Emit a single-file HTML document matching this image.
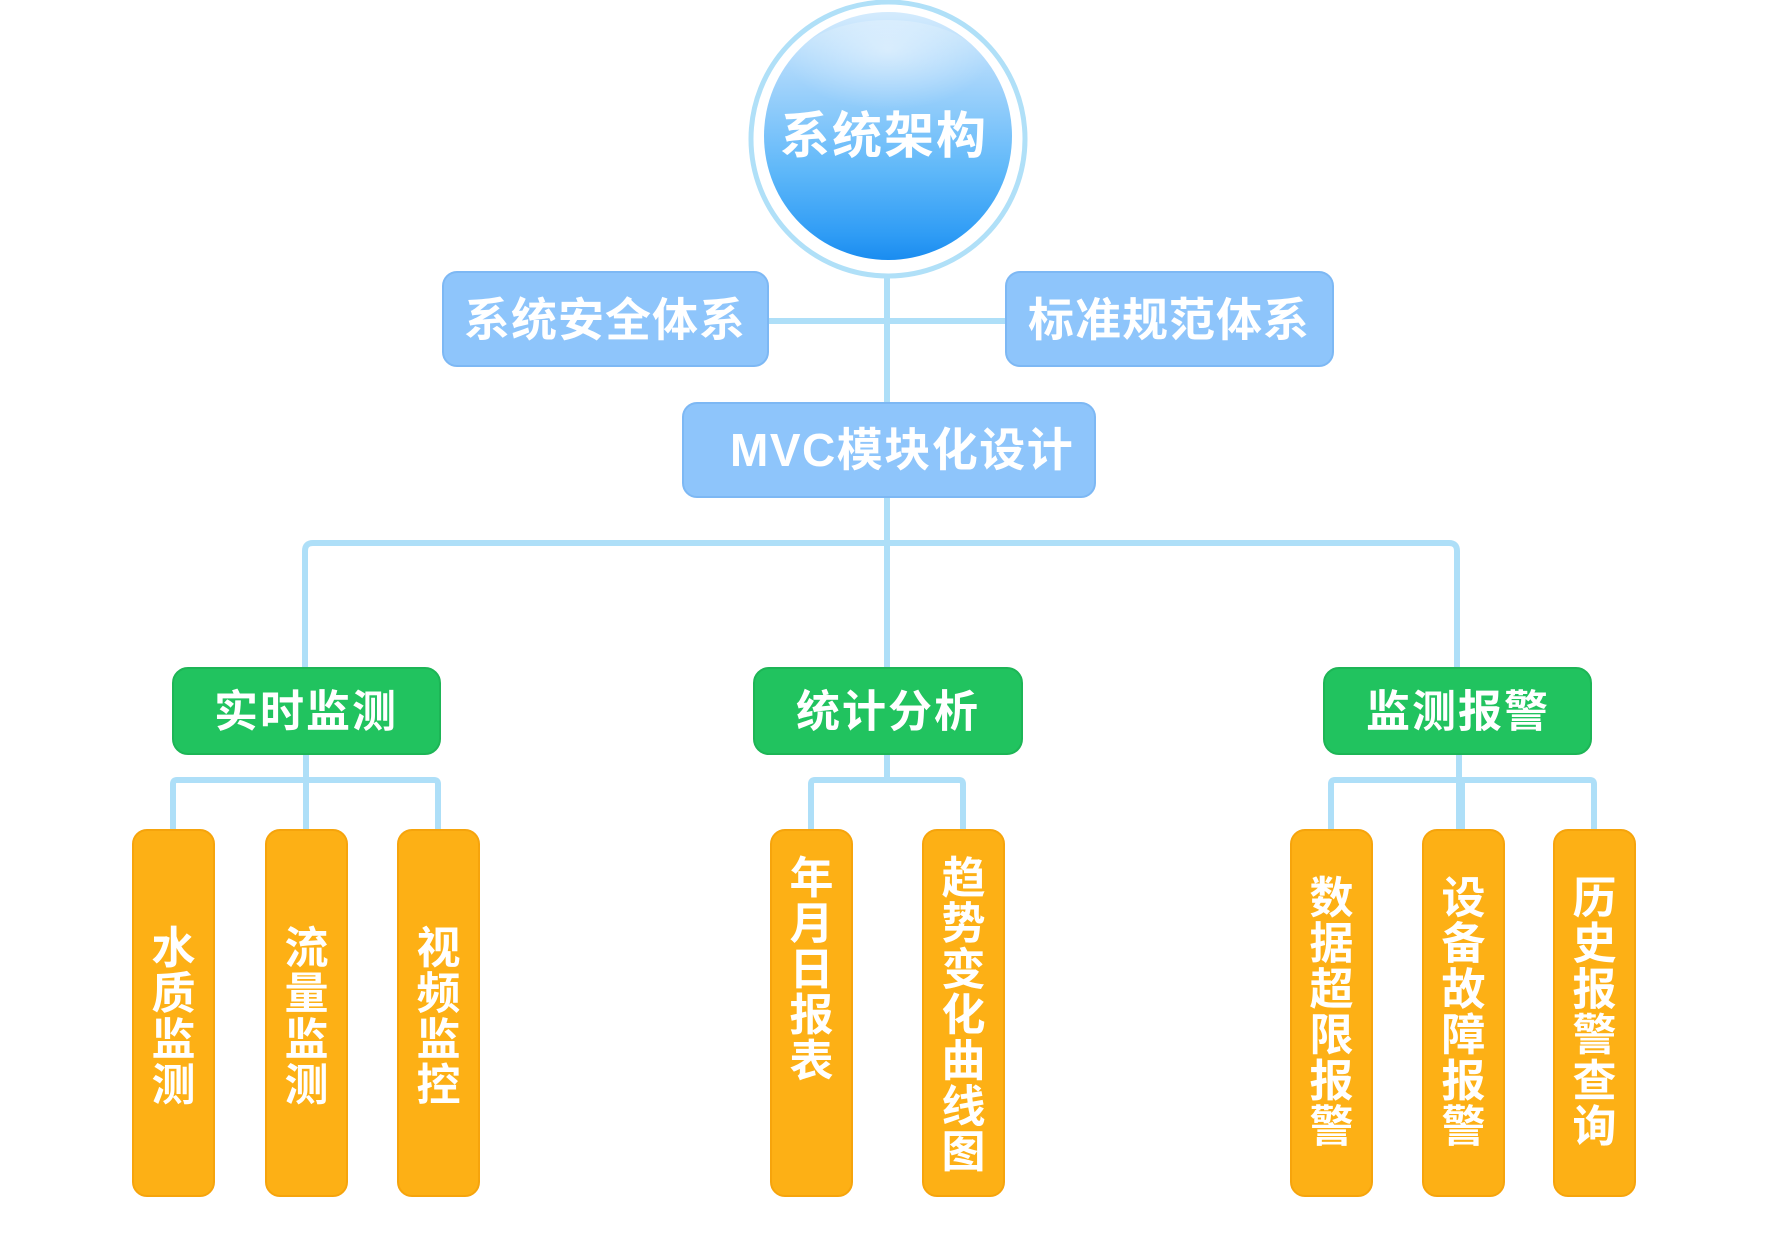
<!DOCTYPE html>
<html>
<head>
<meta charset="utf-8">
<style>
  html, body { margin:0; padding:0; background:#ffffff; }
  body { width:1772px; height:1253px; overflow:hidden; }
  svg { display:block; }
  text { font-family: "Liberation Sans", "Noto Sans CJK SC", "WenQuanYi Zen Hei", sans-serif; font-weight:700; fill:#ffffff; }
</style>
</head>
<body>
<svg width="1772" height="1253" viewBox="0 0 1772 1253" xmlns="http://www.w3.org/2000/svg">
  <defs>
    <linearGradient id="disc" x1="0" y1="0" x2="0" y2="1">
      <stop offset="0" stop-color="#d4ebfd"/>
      <stop offset="0.3" stop-color="#9fd2fb"/>
      <stop offset="0.65" stop-color="#5db7f9"/>
      <stop offset="0.9" stop-color="#2f9cf5"/>
      <stop offset="1" stop-color="#1a8cf0"/>
    </linearGradient>
    <radialGradient id="hl" cx="0.5" cy="0.25" r="0.5">
      <stop offset="0" stop-color="#ffffff" stop-opacity="0.45"/>
      <stop offset="1" stop-color="#ffffff" stop-opacity="0"/>
    </radialGradient>
  </defs>

  <!-- connectors -->
  <g stroke="#aedff8" stroke-width="6" fill="none" stroke-linecap="butt">
    <line x1="887" y1="272" x2="887" y2="668"/>
    <line x1="768" y1="321" x2="1005" y2="321"/>
    <path d="M305 668 V551 Q305 543 313 543 H1449 Q1457 543 1457 551 V668"/>
    <!-- left group -->
    <line x1="306" y1="754" x2="306" y2="830"/>
    <path d="M173 830 V784 Q173 780 177 780 H434 Q438 780 438 784 V830"/>
    <!-- middle group -->
    <line x1="887" y1="754" x2="887" y2="780"/>
    <path d="M811 830 V784 Q811 780 815 780 H959 Q963 780 963 784 V830"/>
    <!-- right group -->
    <line x1="1459" y1="754" x2="1459" y2="830"/>
    <line x1="1462" y1="780" x2="1462" y2="830"/>
    <path d="M1331 830 V784 Q1331 780 1335 780 H1590 Q1594 780 1594 784 V830"/>
  </g>

  <!-- central circle -->
  <circle cx="888" cy="139" r="137" fill="#ffffff" stroke="#b0e0f8" stroke-width="5"/>
  <circle cx="888" cy="136" r="124" fill="url(#disc)"/>
  <ellipse cx="888" cy="80" rx="105" ry="60" fill="url(#hl)"/>
  <text x="884" y="136" font-size="50" text-anchor="middle" dominant-baseline="central" letter-spacing="2">系统架构</text>

  <!-- blue boxes -->
  <rect x="443" y="272" width="325" height="94" rx="14" fill="#8ec5fb" stroke="#7db8f4" stroke-width="2"/>
  <text x="605" y="320" font-size="46" text-anchor="middle" dominant-baseline="central" letter-spacing="1">系统安全体系</text>
  <rect x="1006" y="272" width="327" height="94" rx="14" fill="#8ec5fb" stroke="#7db8f4" stroke-width="2"/>
  <text x="1169" y="320" font-size="46" text-anchor="middle" dominant-baseline="central" letter-spacing="1">标准规范体系</text>
  <rect x="683" y="403" width="412" height="94" rx="14" fill="#8ec5fb" stroke="#7db8f4" stroke-width="2"/>
  <text x="730" y="450" font-size="46" dominant-baseline="central" letter-spacing="1.5">MVC模块化设计</text>

  <!-- green boxes -->
  <rect x="173" y="668" width="267" height="86" rx="15" fill="#21c35f" stroke="#1db556" stroke-width="2"/>
  <text x="306" y="712" font-size="44" text-anchor="middle" dominant-baseline="central" letter-spacing="2">实时监测</text>
  <rect x="754" y="668" width="268" height="86" rx="15" fill="#21c35f" stroke="#1db556" stroke-width="2"/>
  <text x="888" y="712" font-size="44" text-anchor="middle" dominant-baseline="central" letter-spacing="2">统计分析</text>
  <rect x="1324" y="668" width="267" height="86" rx="15" fill="#21c35f" stroke="#1db556" stroke-width="2"/>
  <text x="1458" y="712" font-size="44" text-anchor="middle" dominant-baseline="central" letter-spacing="2">监测报警</text>

  <!-- orange boxes -->
  <g fill="#fdb015" stroke="#f6a40c" stroke-width="2">
    <rect x="133" y="830" width="81" height="366" rx="14"/>
    <rect x="266" y="830" width="81" height="366" rx="14"/>
    <rect x="398" y="830" width="81" height="366" rx="14"/>
    <rect x="771" y="830" width="81" height="366" rx="14"/>
    <rect x="923" y="830" width="81" height="366" rx="14"/>
    <rect x="1291" y="830" width="81" height="366" rx="14"/>
    <rect x="1423" y="830" width="81" height="366" rx="14"/>
    <rect x="1554" y="830" width="81" height="366" rx="14"/>
  </g>

  <g font-size="44" text-anchor="middle" dominant-baseline="central">
    <!-- 水质监测 -->
    <text x="173.5" y="948.5" dominant-baseline="central">水</text>
    <text x="173.5" y="994.2" dominant-baseline="central">质</text>
    <text x="173.5" y="1039.9" dominant-baseline="central">监</text>
    <text x="173.5" y="1085.6" dominant-baseline="central">测</text>
    <!-- 流量监测 -->
    <text x="306.5" y="948.5" dominant-baseline="central">流</text>
    <text x="306.5" y="994.2" dominant-baseline="central">量</text>
    <text x="306.5" y="1039.9" dominant-baseline="central">监</text>
    <text x="306.5" y="1085.6" dominant-baseline="central">测</text>
    <!-- 视频监控 -->
    <text x="438.5" y="948.5" dominant-baseline="central">视</text>
    <text x="438.5" y="994.2" dominant-baseline="central">频</text>
    <text x="438.5" y="1039.9" dominant-baseline="central">监</text>
    <text x="438.5" y="1085.6" dominant-baseline="central">控</text>
    <!-- 年月日报表 -->
    <text x="811.5" y="878.5" dominant-baseline="central">年</text>
    <text x="811.5" y="924.2" dominant-baseline="central">月</text>
    <text x="811.5" y="969.9" dominant-baseline="central">日</text>
    <text x="811.5" y="1015.6" dominant-baseline="central">报</text>
    <text x="811.5" y="1061.3" dominant-baseline="central">表</text>
    <!-- 趋势变化曲线图 -->
    <text x="963.5" y="878.5" dominant-baseline="central">趋</text>
    <text x="963.5" y="924.2" dominant-baseline="central">势</text>
    <text x="963.5" y="969.9" dominant-baseline="central">变</text>
    <text x="963.5" y="1015.6" dominant-baseline="central">化</text>
    <text x="963.5" y="1061.3" dominant-baseline="central">曲</text>
    <text x="963.5" y="1107.0" dominant-baseline="central">线</text>
    <text x="963.5" y="1152.7" dominant-baseline="central">图</text>
    <!-- 数据超限报警 -->
    <text x="1331.5" y="898.5" dominant-baseline="central">数</text>
    <text x="1331.5" y="944.2" dominant-baseline="central">据</text>
    <text x="1331.5" y="989.9" dominant-baseline="central">超</text>
    <text x="1331.5" y="1035.6" dominant-baseline="central">限</text>
    <text x="1331.5" y="1081.3" dominant-baseline="central">报</text>
    <text x="1331.5" y="1127.0" dominant-baseline="central">警</text>
    <!-- 设备故障报警 -->
    <text x="1463.5" y="898.5" dominant-baseline="central">设</text>
    <text x="1463.5" y="944.2" dominant-baseline="central">备</text>
    <text x="1463.5" y="989.9" dominant-baseline="central">故</text>
    <text x="1463.5" y="1035.6" dominant-baseline="central">障</text>
    <text x="1463.5" y="1081.3" dominant-baseline="central">报</text>
    <text x="1463.5" y="1127.0" dominant-baseline="central">警</text>
    <!-- 历史报警查询 -->
    <text x="1594.5" y="898.5" dominant-baseline="central">历</text>
    <text x="1594.5" y="944.2" dominant-baseline="central">史</text>
    <text x="1594.5" y="989.9" dominant-baseline="central">报</text>
    <text x="1594.5" y="1035.6" dominant-baseline="central">警</text>
    <text x="1594.5" y="1081.3" dominant-baseline="central">查</text>
    <text x="1594.5" y="1127.0" dominant-baseline="central">询</text>
  </g>
</svg>
</body>
</html>
